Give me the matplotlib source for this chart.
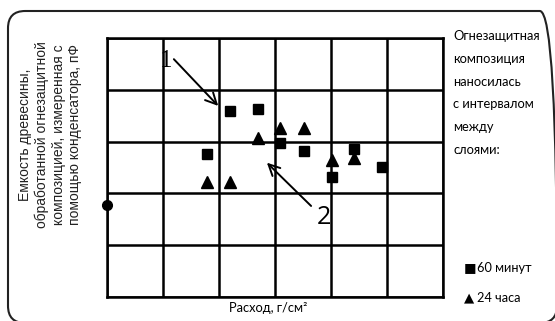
import matplotlib
matplotlib.use("Agg")
import matplotlib.pyplot as plt
from matplotlib.patches import FancyBboxPatch

# ---------------------------------------------------
# Data (grid units: 6 columns x 5 rows)
# ---------------------------------------------------
sq_x = [2.20, 2.70, 3.09, 3.52, 1.79, 4.41, 4.02, 4.91]
sq_y = [3.59, 3.63, 2.97, 2.82, 2.76, 2.86, 2.32, 2.51]

tri_x = [3.09, 3.52, 2.70, 4.02, 4.41, 1.79, 2.20]
tri_y = [3.26, 3.26, 3.07, 2.64, 2.68, 2.22, 2.22]

start_x = [0.0]
start_y = [1.78]

legend_labels = ["60 минут", "24 часа"]
ylabel_lines = ["Емкость древесины,", "обработанной огнезащитной",
                "композицией, измеренная с", "помощью конденсатора, пФ"]
note_lines = ["Огнезащитная", "композиция", "наносилась",
              "с интервалом", "между", "слоями:"]
xlabel_text = "Расход, г/см²"

W, H = 555, 321

# ---------------------------------------------------
# Figure and axes
# ---------------------------------------------------
fig = plt.figure(figsize=(W / 100, H / 100), dpi=100)
ax = fig.add_axes([107 / W, 1 - 297 / H, 336 / W, 259 / H])
ax.set_xlim(0, 6)
ax.set_ylim(0, 5)
ax.set_xticks(range(7))
ax.set_yticks(range(6))
ax.tick_params(length=0, labelbottom=False, labelleft=False)
ax.grid(True, color="black", linewidth=1.8)
for s in ax.spines.values():
    s.set_linewidth(1.8)

ax.plot(sq_x, sq_y, "s", color="black", markersize=7.5, zorder=3)
ax.plot(tri_x, tri_y, "^", color="black", markersize=8.5, zorder=3)
ax.plot(start_x, start_y, "o", color="black", markersize=7, clip_on=False, zorder=4)

# numbered arrows
ax.annotate("", xy=(2.02, 3.65), xytext=(1.16, 4.63),
            arrowprops=dict(arrowstyle="->", color="black", lw=1.4,
                            mutation_scale=20))
ax.text(1.05, 4.56, "1", fontsize=18, family="Liberation Serif",
        ha="center", va="center")
ax.annotate("", xy=(2.82, 2.63), xytext=(3.68, 1.72),
            arrowprops=dict(arrowstyle="->", color="black", lw=1.4,
                            mutation_scale=20))
ax.text(3.875, 1.53, "2", fontsize=18, family="Open Sans",
        ha="center", va="center")

# ---------------------------------------------------
# Texts around the plot
# ---------------------------------------------------
for i, line in enumerate(ylabel_lines):
    fig.text((25.5 + 16.5 * i) / W, 1 - 135 / H, line, rotation=90,
             ha="center", va="center", fontsize=10, family="Liberation Sans",
             color="#222222")

fig.text(268 / W, 1 - 308 / H, xlabel_text, ha="center", va="center",
         fontsize=9.3, family="Lato")

for i, line in enumerate(note_lines):
    fig.text(453 / W, 1 - (36 + 22.8 * i) / H, line, ha="left", va="center",
             fontsize=9.3, family="Lato")

fig.text(464 / W, 1 - 268 / H, "■", ha="left", va="center", fontsize=9.5,
         family="DejaVu Sans")
fig.text(477 / W, 1 - 268 / H, legend_labels[0], ha="left", va="center",
         fontsize=9.2, family="Lato")
fig.text(464 / W, 1 - 298 / H, "▲", ha="left", va="center", fontsize=9.5,
         family="DejaVu Sans")
fig.text(477 / W, 1 - 298 / H, legend_labels[1], ha="left", va="center",
         fontsize=9.2, family="Lato")

# rounded frame around everything
frame = FancyBboxPatch((8 / W, -2 / H), 549 / W, 312 / H,
                       boxstyle="round,pad=0,rounding_size=0.031",
                       transform=fig.transFigure, fill=False,
                       edgecolor="#222222", linewidth=1.5,
                       mutation_aspect=W / H)
fig.patches.append(frame)

fig.savefig("out.png", dpi=100)
